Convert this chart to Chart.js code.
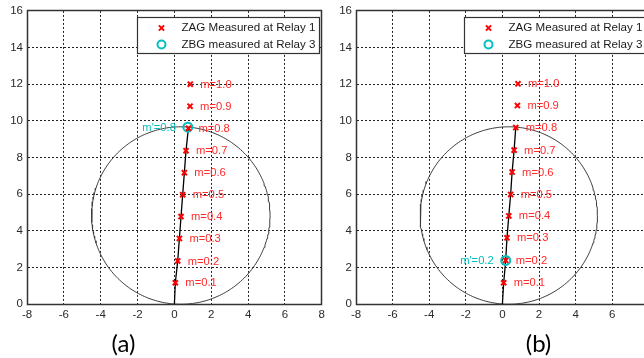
<!DOCTYPE html>
<html>
<head>
<meta charset="utf-8">
<script src="https://cdn.jsdelivr.net/npm/chart.js@4.4.0/dist/chart.umd.min.js"></script>
<style>
  html, body { margin: 0; padding: 0; background: #fff; }
  #wrap { position: relative; width: 644px; height: 358px; overflow: hidden; background: #fff; }
  canvas { position: absolute; top: 0; }
  #chartA { left: 0; }
  #chartB { left: 329px; }
  .cap { position: absolute; top: 328px; font: 24px Lato, "Open Sans", sans-serif; color: #000;
         line-height: 30px; transform: translateX(-50%); white-space: nowrap; }
</style>
</head>
<body>
<div id="wrap">
  <canvas id="chartA" width="329" height="358"></canvas>
  <canvas id="chartB" width="327" height="358"></canvas>
  <div class="cap" style="left:123.5px">(a)</div>
  <div class="cap" style="left:538.5px">(b)</div>
</div>
<script>
// Axis ticks (ohms)
const xTicks = [-8, -6, -4, -2, 0, 2, 4, 6, 8];
const yTicks = [0, 2, 4, 6, 8, 10, 12, 14, 16];

// Fault location labels along the line
const mLabels = ['m=0.1', 'm=0.2', 'm=0.3', 'm=0.4', 'm=0.5', 'm=0.6', 'm=0.7', 'm=0.8', 'm=0.9', 'm=1.0'];
const seriesNames = ['ZAG Measured at Relay 1', 'ZBG measured at Relay 3'];

// Mho zone reach point: the circle's diameter runs from the origin to here
const mhoReach = [0.70, 9.66];

// Case (a): apparent impedances R + jX
const zagAx = [0.05, 0.18, 0.27, 0.36, 0.45, 0.54, 0.63, 0.76, 0.85, 0.86];
const zagAy = [1.16, 2.35, 3.58, 4.77, 5.97, 7.17, 8.37, 9.60, 10.80, 12.00];
const zbgAx = [0.73];
const zbgAy = [9.65];
const zbgALabel = "m'=0.8";

// Case (b)
const zagBx = [0.07, 0.18, 0.25, 0.35, 0.45, 0.53, 0.64, 0.73, 0.82, 0.85];
const zagBy = [1.16, 2.38, 3.61, 4.81, 5.98, 7.20, 8.40, 9.63, 10.83, 12.02];
const zbgBx = [0.18];
const zbgBy = [2.38];
const zbgBLabel = "m'=0.2";

const FONT = '"Liberation Sans", Arial, sans-serif';
const RED = '#ff0000';
const CYAN = '#00bfbf';

function mhoCircle(reach) {
  const cx = reach[0] / 2, cy = reach[1] / 2;
  const r = Math.hypot(cx, cy);
  const pts = [];
  for (let k = 0; k <= 240; k++) {
    const t = (k / 240) * 2 * Math.PI;
    pts.push({ x: cx + r * Math.cos(t), y: cy + r * Math.sin(t) });
  }
  return pts;
}

function align(p) { return Math.round(p - 0.5) + 0.5; }

const annotate = {
  id: 'annotate',
  beforeDatasetsDraw(chart) {
    const a = chart.chartArea, ctx = chart.ctx;
    ctx.save();
    ctx.strokeStyle = '#333';
    ctx.lineWidth = 1.5;
    const l = align(a.left), t = align(a.top), r = align(a.right), b = align(a.bottom);
    ctx.strokeRect(l, t, r - l, b - t);
    ctx.restore();
  },
  afterDatasetsDraw(chart, args, opts) {
    const ctx = chart.ctx, a = chart.chartArea;
    ctx.save();
    ctx.font = '11.2px ' + FONT;
    ctx.textBaseline = 'middle';

    // m labels beside each fault point
    ctx.fillStyle = '#ff2a2a';
    ctx.textAlign = 'left';
    chart.getDatasetMeta(2).data.forEach((pt, i) => {
      ctx.fillText(opts.labels[i], pt.x + 10, pt.y + 0.5);
    });
    // m' label to the left of the relay 3 point
    ctx.fillStyle = CYAN;
    ctx.textAlign = 'right';
    chart.getDatasetMeta(3).data.forEach((pt) => {
      ctx.fillText(opts.prime, pt.x - 12, pt.y + 0.5);
    });

    // legend box in the upper right corner
    const bw = 182, bh = 36;
    const bx = align(a.right - 2 - bw), by = align(a.top + 6.5);
    ctx.fillStyle = '#fff';
    ctx.fillRect(bx, by, bw, bh);
    ctx.strokeStyle = '#333';
    ctx.lineWidth = 1.2;
    ctx.strokeRect(bx, by, bw, bh);

    const mx = bx + 24, tx = bx + 44;
    const y1 = by + 10.5, y2 = by + 27;
    // cross marker
    ctx.strokeStyle = RED;
    ctx.lineWidth = 2;
    ctx.beginPath();
    ctx.moveTo(mx - 2.6, y1 - 2.6); ctx.lineTo(mx + 2.6, y1 + 2.6);
    ctx.moveTo(mx + 2.6, y1 - 2.6); ctx.lineTo(mx - 2.6, y1 + 2.6);
    ctx.stroke();
    // circle marker
    ctx.strokeStyle = CYAN;
    ctx.beginPath();
    ctx.arc(mx, y2, 4, 0, 2 * Math.PI);
    ctx.stroke();

    ctx.font = '11.6px ' + FONT;
    ctx.fillStyle = '#1a1a1a';
    ctx.textAlign = 'left';
    ctx.fillText(chart.data.datasets[2].label, tx, y1);
    ctx.fillText(chart.data.datasets[3].label, tx, y2);
    ctx.restore();
  }
};

function makeChart(id, zx, zy, bx, by, primeLabel, padRight) {
  const zag = zx.map((x, i) => ({ x, y: zy[i] }));
  const zbg = bx.map((x, i) => ({ x, y: by[i] }));
  // line impedance trace from the origin up to the zone reach
  const lineTrace = [{ x: 0, y: 0 }].concat(zag.slice(0, 8));

  return new Chart(document.getElementById(id), {
    type: 'scatter',
    data: {
      datasets: [
        { label: 'mho', data: mhoCircle(mhoReach), showLine: true, pointRadius: 0,
          borderColor: '#3c3c3c', borderWidth: 1, order: 4 },
        { label: 'line', data: lineTrace, showLine: true, pointRadius: 0,
          borderColor: '#000', borderWidth: 1.3, order: 3 },
        { label: seriesNames[0], data: zag, showLine: false, pointStyle: 'crossRot',
          pointRadius: 3.6, borderColor: RED, backgroundColor: RED, pointBorderWidth: 2, order: 1 },
        { label: seriesNames[1], data: zbg, showLine: false, pointStyle: 'circle',
          pointRadius: 4.5, borderColor: CYAN, backgroundColor: 'rgba(0,0,0,0)', pointBorderWidth: 2, order: 2 }
      ]
    },
    options: {
      responsive: false,
      animation: false,
      events: [],
      layout: { padding: { top: 9, left: 0, right: padRight, bottom: 0 } },
      plugins: {
        legend: { display: false },
        tooltip: { enabled: false },
        annotate: { labels: mLabels, prime: primeLabel }
      },
      scales: {
        x: {
          type: 'linear', min: -8, max: 8,
          afterBuildTicks: s => { s.ticks = xTicks.map(v => ({ value: v })); },
          afterFit: s => { s.height = 54; },
          grid: { color: '#222', lineWidth: 1, drawTicks: false },
          border: { display: true, color: '#333', width: 1, dash: [2, 2] },
          ticks: { font: { family: FONT, size: 11.5 }, color: '#2a2a2a', padding: 4,
                   maxRotation: 0, autoSkip: false }
        },
        y: {
          type: 'linear', min: 0, max: 16,
          afterBuildTicks: s => { s.ticks = yTicks.map(v => ({ value: v })); },
          afterFit: s => { s.width = 27; },
          grid: { color: '#222', lineWidth: 1, drawTicks: false },
          border: { display: true, color: '#333', width: 1, dash: [2, 2] },
          ticks: { font: { family: FONT, size: 11.5 }, color: '#2a2a2a', padding: 4, autoSkip: false }
        }
      }
    },
    plugins: [annotate]
  });
}

makeChart('chartA', zagAx, zagAy, zbgAx, zbgAy, zbgALabel, 6);
makeChart('chartB', zagBx, zagBy, zbgBx, zbgBy, zbgBLabel, 7);
</script>
</body>
</html>
